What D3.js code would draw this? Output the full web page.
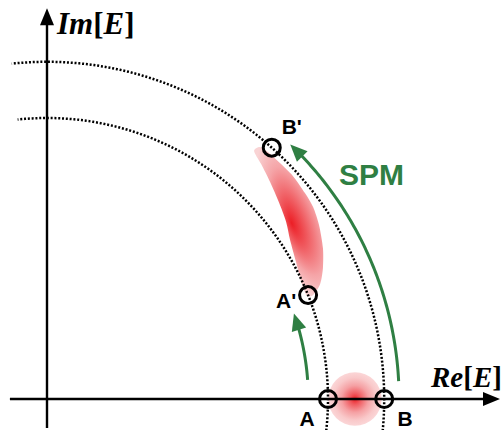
<!DOCTYPE html>
<html><head><meta charset="utf-8">
<script src="https://cdn.jsdelivr.net/npm/d3@7"></script>
<style>body{margin:0;background:#fff}svg{display:block}</style>
</head><body><svg id="c" width="504" height="430"></svg>
<script>
// ---- data (field amplitude units, phase in degrees) ----
const circleRadii = [1.0, 1.2];                 // |A|, |B| dotted circles
const arcAngleRange = [-8, 96];                  // degrees drawn for dotted circles
const stateNames = ["A", "B", "A'", "B'"];
const stateAmp = [1.0, 1.2, 1.0, 1.2];
const statePhase = [0, 0, 21.7, 48.2];
const labelDx = [-21, 21, -22, 20];
const labelDy = [27, 27, 13, -14];
const arrowRadius = [1.253, 0.93];
const arrowStart = [2.9, 4.2];
const arrowEnd = [46.3, 19.1];
const blobCenter = [1.096, 0];
const blobRadius = 0.095;
const bananaX = [0.737,0.758,0.786,0.829,0.875,0.918,0.947,0.968,0.982,0.982,0.972,0.947,0.925,0.907,0.886,0.865,0.851,0.826,0.794,0.762];
const bananaY = [0.883,0.897,0.879,0.840,0.794,0.733,0.683,0.619,0.537,0.466,0.409,0.370,0.367,0.409,0.488,0.566,0.630,0.698,0.772,0.836];
const bananaPeak = [0.872, 0.626];
const xAxisRange = [-0.132, 1.612];
const yAxisRange = [-0.103, 1.391];

const svg = d3.select("#c");
const x = d3.scaleLinear().domain([0, 1]).range([47, 328]);
const y = d3.scaleLinear().domain([0, 1]).range([399, 118]);
const rad = d => d * Math.PI / 180;
const unitPx = x(1) - x(0);

const defs = svg.append("defs");
// blob gradient
const bg = defs.append("radialGradient").attr("id", "blobG");
[[0,"#ec2027"],[0.2,"#f05a5f"],[0.5,"#f5a0a3"],[0.8,"#f9c9ca"],[1,"#fbd6d7"]]
  .forEach(s => bg.append("stop").attr("offset", s[0]).attr("stop-color", s[1]));
// banana gradient (elongated along its axis)
const pkx = x(bananaPeak[0]), pky = y(bananaPeak[1]);
const ang = 69;
const cx0 = pkx + 8, cy0 = pky - 3;
const gb = defs.append("radialGradient").attr("id", "banG")
  .attr("gradientUnits", "userSpaceOnUse")
  .attr("cx", 0).attr("cy", 0).attr("r", 1).attr("fx", 0).attr("fy", 0.28)
  .attr("gradientTransform", `translate(${cx0},${cy0}) rotate(${ang}) scale(88,32)`);
[[0,"#ec1e25"],[0.3,"#f05b60"],[0.65,"#f5a4a7"],[1,"#f9d3d4"]]
  .forEach(s => gb.append("stop").attr("offset", s[0]).attr("stop-color", s[1]));

// blob
svg.append("circle").attr("cx", x(blobCenter[0])).attr("cy", y(blobCenter[1]))
  .attr("r", blobRadius * unitPx).attr("fill", "url(#blobG)");
// banana
const banPts = bananaX.map((v, i) => [x(v), y(bananaY[i])]);
svg.append("path").attr("d", d3.line().curve(d3.curveCardinalClosed.tension(0.2))(banPts))
  .attr("fill", "url(#banG)");

// dotted circles
const angles = d3.range(arcAngleRange[0], arcAngleRange[1] + 0.01, 0.5);
circleRadii.forEach(r => {
  svg.append("path")
    .attr("d", d3.line()(angles.map(a => [x(r * Math.cos(rad(a))), y(r * Math.sin(rad(a)))])))
    .attr("fill", "none").attr("stroke", "#000").attr("stroke-width", 2.5)
    .attr("stroke-dasharray", "2,1.8");
});

// axes
const axW = 2.4;
svg.append("line").attr("x1", x(xAxisRange[0])).attr("x2", x(xAxisRange[1]) - 14)
  .attr("y1", y(0)).attr("y2", y(0)).attr("stroke", "#000").attr("stroke-width", axW);
svg.append("path").attr("d", d3.line()([[x(xAxisRange[1]), y(0)], [x(xAxisRange[1]) - 17, y(0) - 7], [x(xAxisRange[1]) - 17, y(0) + 7]]) + "Z").attr("fill", "#000");
svg.append("line").attr("x1", x(0)).attr("x2", x(0))
  .attr("y1", y(yAxisRange[0])).attr("y2", y(yAxisRange[1]) + 14).attr("stroke", "#000").attr("stroke-width", axW);
svg.append("path").attr("d", d3.line()([[x(0), y(yAxisRange[1])], [x(0) - 7, y(yAxisRange[1]) + 17], [x(0) + 7, y(yAxisRange[1]) + 17]]) + "Z").attr("fill", "#000");

// green arrows
const green = "#2f7f43";
arrowRadius.forEach((r, i) => {
  const rp = r * unitPx;
  const L = 17, hw = 7.5;
  const tipA = rad(arrowEnd[i]);
  const baseA = tipA - L / rp;
  const lineAngles = d3.range(arrowStart[i], baseA * 180 / Math.PI + 1, 0.5).map(rad);
  lineAngles[lineAngles.length - 1] = baseA + 2 / rp;
  svg.append("path").attr("d", d3.line()(lineAngles.map(a => [x(r * Math.cos(a)), y(r * Math.sin(a))])))
    .attr("fill", "none").attr("stroke", green).attr("stroke-width", 3);
  const tx = x(r * Math.cos(tipA)), ty = y(r * Math.sin(tipA));
  const bx = x(r * Math.cos(baseA)), by = y(r * Math.sin(baseA));
  const dx = tx - bx, dy = ty - by, len = Math.hypot(dx, dy);
  const nx = -dy / len, ny = dx / len;
  svg.append("path").attr("d", d3.line()([[tx, ty], [bx + nx * hw, by + ny * hw], [bx - nx * hw, by - ny * hw]]) + "Z")
    .attr("fill", green);
});

// state circles and labels
stateNames.forEach((n, i) => {
  const px = x(stateAmp[i] * Math.cos(rad(statePhase[i])));
  const py = y(stateAmp[i] * Math.sin(rad(statePhase[i])));
  svg.append("circle").attr("cx", px).attr("cy", py).attr("r", 8.5)
    .attr("fill", "none").attr("stroke", "#000").attr("stroke-width", 3);
  svg.append("text").attr("x", px + labelDx[i]).attr("y", py + labelDy[i])
    .attr("text-anchor", "middle").attr("font-family", "Liberation Sans, Arial, sans-serif")
    .attr("font-weight", "bold").attr("font-size", 21).attr("fill", "#000").text(n);
});

// SPM label
svg.append("text").attr("x", 339).attr("y", 185)
  .attr("font-family", "Liberation Sans, Arial, sans-serif").attr("font-weight", "bold")
  .attr("font-size", 30).attr("fill", green).text("SPM");

// axis labels
function axisLabel(px, py, a, fs) {
  const t = svg.append("text").attr("x", px).attr("y", py)
    .attr("font-family", "Liberation Serif, Times New Roman, serif").attr("font-weight", "bold")
    .attr("font-size", fs).attr("fill", "#000");
  t.append("tspan").attr("font-style", "italic").text(a);
  t.append("tspan").text("[");
  t.append("tspan").attr("font-style", "italic").text("E");
  t.append("tspan").text("]");
}
axisLabel(57, 34, "Im", 31);
axisLabel(431, 387, "Re", 29);
</script></body></html>
